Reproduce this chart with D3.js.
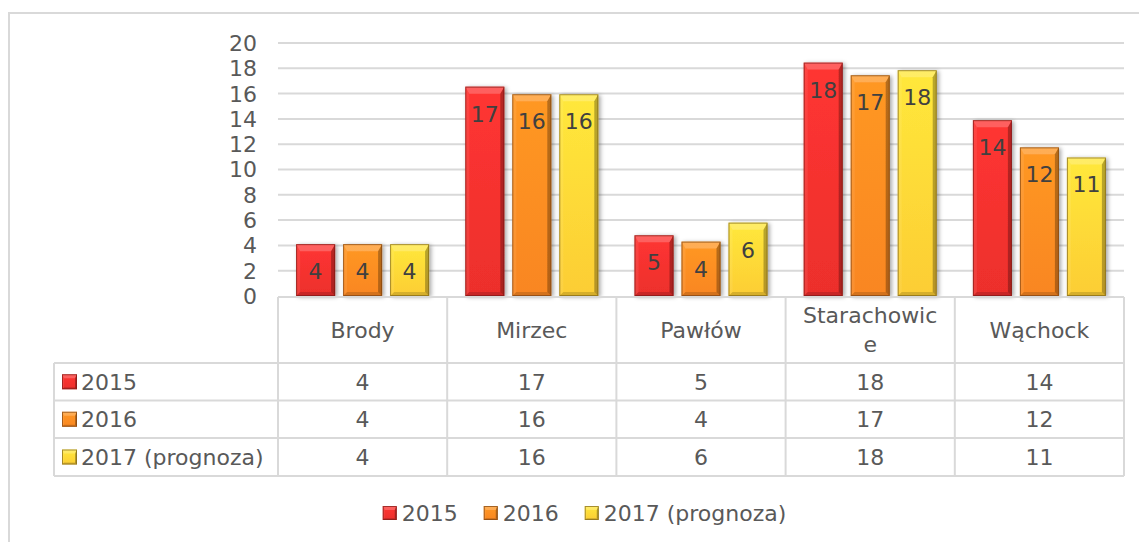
<!DOCTYPE html>
<html>
<head>
<meta charset="utf-8">
<script src="https://cdn.jsdelivr.net/npm/d3@7"></script>
<style>
  body { margin: 0; background: #fff; }
  svg text { font-family: 'DejaVu Sans', sans-serif; fill: #595959; }
</style>
</head>
<body>
<svg id="chart" width="1139" height="542"></svg>
<script>
const categories = ['Brody', 'Mirzec', 'Pawłów', 'Starachowice', 'Wąchock']
// header lines as wrapped in the table cell
const categoryLines = [['Brody'], ['Mirzec'], ['Pawłów'], ['Starachowic', 'e'], ['Wąchock']]
const seriesNames = ['2015', '2016', '2017 (prognoza)']
const values2015 = [4.1, 16.55, 4.8, 18.45, 13.9]
const values2016 = [4.1, 15.95, 4.3, 17.45, 11.75]
const values2017 = [4.1, 15.95, 5.8, 17.85, 10.95]
const yTicks = [0, 2, 4, 6, 8, 10, 12, 14, 16, 18, 20]
const colors = ['#ec2f2c', '#f98620', '#fccd34']
const edgeColors = ['#7d1a16', '#7f4310', '#806619']

document.addEventListener('DOMContentLoaded', function () {
  drawChart()
})

function drawChart() {
  const seriesValues = [values2015, values2016, values2017]
  const svg = d3.select('#chart')
  const grid = '#d9d9d9'

  const defs = svg.append('defs')
  defs.append('filter')
    .attr('id', 'shadow')
    .attr('x', '-20%').attr('y', '-20%').attr('width', '150%').attr('height', '150%')
    .append('feDropShadow')
    .attr('dx', 2).attr('dy', 1).attr('stdDeviation', 2)
    .attr('flood-color', '#000').attr('flood-opacity', 0.35)

  colors.forEach((c, i) => {
    const lg = defs.append('linearGradient')
      .attr('id', 'grad' + i)
      .attr('x1', 0).attr('y1', 0).attr('x2', 0).attr('y2', 1)
    lg.append('stop').attr('offset', 0).attr('stop-color', d3.color(c).brighter(0.35))
    lg.append('stop').attr('offset', 1).attr('stop-color', c)
  })

  // outer chart frame
  svg.append('rect')
    .attr('x', 9).attr('y', 13).attr('width', 1140).attr('height', 540)
    .attr('fill', 'none').attr('stroke', grid).attr('stroke-width', 2)

  const left = 278, right = 1124
  const x0 = d3.scaleBand().domain(categories).range([left, right])
  const x1 = d3.scaleBand().domain(seriesNames).range([18.1, x0.bandwidth() - 18.1]).paddingInner(8 / 47)
  const y = d3.scaleLinear().domain([0, 20]).range([296, 43])

  // gridlines
  svg.append('g')
    .selectAll('line')
    .data(yTicks.filter(d => d > 0))
    .join('line')
    .attr('x1', left).attr('x2', right)
    .attr('y1', d => y(d)).attr('y2', d => y(d))
    .attr('stroke', grid).attr('stroke-width', 2)

  // y tick labels
  svg.append('g')
    .selectAll('text')
    .data(yTicks)
    .join('text')
    .attr('x', 257)
    .attr('y', d => y(d))
    .attr('dy', '0.36em')
    .attr('text-anchor', 'end')
    .style('font-size', '22px')
    .text(d => d)

  // bars
  const groups = svg.append('g')
    .selectAll('g')
    .data(categories)
    .join('g')
    .attr('transform', d => `translate(${x0(d)},0)`)

  groups.each(function (cat, ci) {
    const g = d3.select(this)
    seriesNames.forEach((s, si) => {
      const v = seriesValues[si][ci]
      const bx = x1(s), bw = x1.bandwidth()
      const by = y(v), bh = y(0) - y(v)
      bevelBox(g, bx, by, bw, bh, si, 7, 4)
      g.append('text')
        .attr('x', bx + bw / 2)
        .attr('y', by + 35)
        .attr('text-anchor', 'middle')
        .style('font-size', '22px')
        .style('fill', '#404040')
        .text(Math.round(v))
    })
  })

  // data table
  const tHeader = 297, rowY = [363, 400.5, 438, 476]
  const tbl = svg.append('g').attr('stroke', grid).attr('stroke-width', 2)
  tbl.append('line').attr('x1', left).attr('x2', right).attr('y1', tHeader).attr('y2', tHeader)
  rowY.forEach(ry => {
    tbl.append('line').attr('x1', 54).attr('x2', right).attr('y1', ry).attr('y2', ry)
  })
  categories.concat(['end']).forEach((c, i) => {
    const xx = i < categories.length ? x0(c) : right
    tbl.append('line').attr('x1', xx).attr('x2', xx).attr('y1', tHeader).attr('y2', rowY[3])
  })
  tbl.append('line').attr('x1', 54).attr('x2', 54).attr('y1', rowY[0]).attr('y2', rowY[3])

  // header labels
  categories.forEach((c, i) => {
    const lines = categoryLines[i]
    const cy = (tHeader + rowY[0]) / 2
    const lh = 29
    lines.forEach((ln, li) => {
      svg.append('text')
        .attr('x', x0(c) + x0.bandwidth() / 2)
        .attr('y', cy + (li - (lines.length - 1) / 2) * lh)
        .attr('dy', '0.36em')
        .attr('text-anchor', 'middle')
        .style('font-size', '22px')
        .text(ln)
    })
  })

  // rows
  seriesNames.forEach((s, si) => {
    const cy = (rowY[si] + rowY[si + 1]) / 2
    bevelBox(svg, 62, cy - 7.5, 15, 15, si, 4, 2, true)
    svg.append('text')
      .attr('x', 81).attr('y', cy).attr('dy', '0.36em')
      .style('font-size', '22px')
      .text(s)
    categories.forEach((c, ci) => {
      svg.append('text')
        .attr('x', x0(c) + x0.bandwidth() / 2)
        .attr('y', cy).attr('dy', '0.36em')
        .attr('text-anchor', 'middle')
        .style('font-size', '22px')
        .text(Math.round(seriesValues[si][ci]))
    })
  })

  // legend
  const legend = svg.append('g')
  let lx = 0
  seriesNames.forEach((s, si) => {
    const item = legend.append('g').attr('transform', `translate(${lx},0)`)
    bevelBox(item, 0, -7, 14, 14, si, 4, 2, true)
    const t = item.append('text')
      .attr('x', 19).attr('y', 0).attr('dy', '0.36em')
      .style('font-size', '22px')
      .text(s)
    lx += 19 + t.node().getComputedTextLength() + 26
  })
  const legendW = lx - 26
  legend.attr('transform', `translate(${584.5 - legendW / 2},513)`)
}

function bevelBox(g, x, y, w, h, si, top, side, noShadow) {
  const b = g.append('g')
  if (!noShadow) b.attr('filter', 'url(#shadow)')
  b.append('rect')
    .attr('x', x).attr('y', y).attr('width', w).attr('height', h)
    .attr('fill', `url(#grad${si})`)
  const t = Math.min(top, h / 2)
  // top bevel (light)
  b.append('polygon')
    .attr('points', [[x, y], [x + w, y], [x + w - side, y + t], [x + side, y + t]].join(' '))
    .attr('fill', '#fff').attr('fill-opacity', 0.22)
  // left bevel
  b.append('polygon')
    .attr('points', [[x, y], [x + side, y + t], [x + side, y + h - side], [x, y + h]].join(' '))
    .attr('fill', '#fff').attr('fill-opacity', 0.08)
  // right bevel (dark)
  b.append('polygon')
    .attr('points', [[x + w, y], [x + w, y + h], [x + w - side, y + h - side], [x + w - side, y + t]].join(' '))
    .attr('fill', '#000').attr('fill-opacity', 0.28)
  // bottom bevel
  b.append('polygon')
    .attr('points', [[x, y + h], [x + w, y + h], [x + w - side, y + h - side], [x + side, y + h - side]].join(' '))
    .attr('fill', '#000').attr('fill-opacity', 0.15)
  b.append('rect')
    .attr('x', x + 0.5).attr('y', y + 0.5).attr('width', w - 1).attr('height', h - 1)
    .attr('fill', 'none').attr('stroke', edgeColors[si]).attr('stroke-opacity', 0.7).attr('stroke-width', 1)
}
</script>
</body>
</html>
